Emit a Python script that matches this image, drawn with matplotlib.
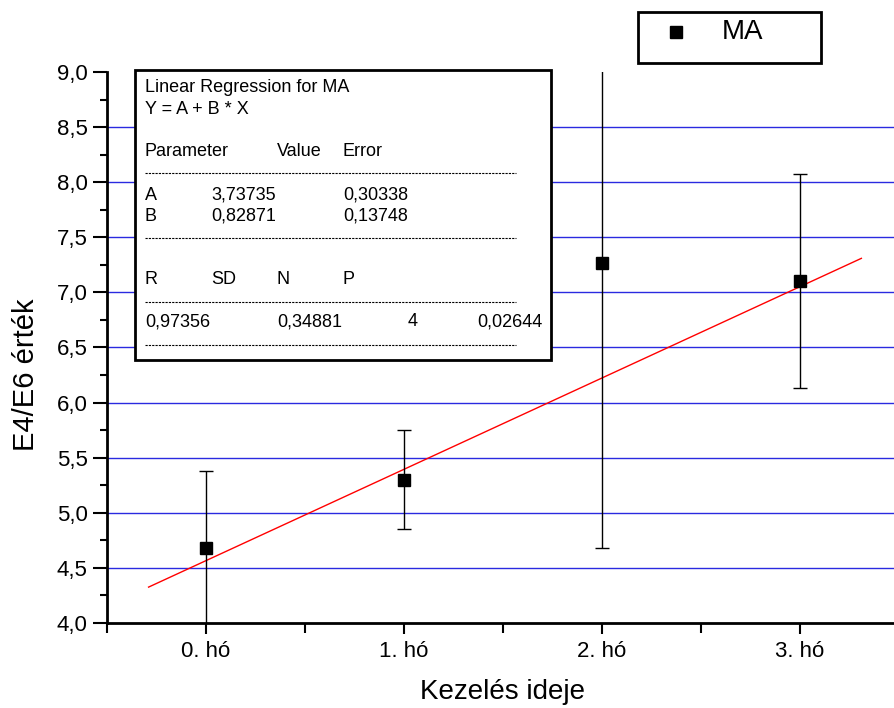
import matplotlib
matplotlib.use("Agg")
import matplotlib.pyplot as plt
from matplotlib.ticker import FuncFormatter, MultipleLocator, FixedLocator
import numpy as np

plt.rcParams['font.family'] = ['Liberation Sans', 'DejaVu Sans']

# ---- data ----
months = [0, 1, 2, 3]
month_labels = ["0. hó", "1. hó", "2. hó", "3. hó"]
ma_values = [4.68, 5.30, 7.27, 7.10]
ma_errors = [0.70, 0.45, 2.59, 0.97]
series_name = "MA"
fit_A = 3.73735
fit_B = 0.82871
fit_x_range = [-0.29, 3.31]

stats_title = ["Linear Regression for MA", "Y = A + B * X"]
param_header = ["Parameter", "Value", "Error"]
param_rows = [["A", "3,73735", "0,30338"], ["B", "0,82871", "0,13748"]]
stat_header = ["R", "SD", "N", "P"]
stat_values = ["0,97356", "0,34881", "4", "0,02644"]

W, H = 895, 708
fig = plt.figure(figsize=(W / 100, H / 100), dpi=100)
ax = fig.add_axes([107 / W, 1 - 623 / H, (895 - 107) / W, (623 - 72) / H])

ax.set_xlim(-0.5, -0.5 + (895 - 107) / 198)
ax.set_ylim(4.0, 9.0)

# gridlines
for gy in np.arange(4.5, 8.51, 0.5):
    ax.axhline(gy, color='#2a2ae0', lw=1.0, zorder=1)

# regression line
fx = np.array(fit_x_range)
ax.plot(fx, fit_A + fit_B * (fx + 1), color='red', lw=1.0, zorder=2)

# data with error bars
ax.errorbar(months, ma_values, yerr=ma_errors, fmt='s', color='black',
            ecolor='black', elinewidth=1.0, capsize=5, capthick=1.0,
            markersize=8, zorder=3, clip_on=True)

# axes styling
for s in ['top', 'right']:
    ax.spines[s].set_visible(False)
for s in ['left', 'bottom']:
    ax.spines[s].set_linewidth(2.0)

ax.xaxis.set_major_locator(FixedLocator(months))
ax.set_xticklabels(month_labels)
ax.xaxis.set_minor_locator(FixedLocator([-0.5, 0.5, 1.5, 2.5]))
ax.yaxis.set_major_locator(MultipleLocator(0.5))
ax.yaxis.set_minor_locator(MultipleLocator(0.25))
ax.yaxis.set_major_formatter(FuncFormatter(lambda v, p: f"{v:.1f}".replace('.', ',')))
ax.tick_params(axis='both', which='major', length=10, width=1.5, labelsize=16, direction='out')
ax.tick_params(axis='both', which='minor', length=5, width=1.5, direction='out')
ax.tick_params(axis='x', which='major', length=8, pad=5)
ax.tick_params(axis='x', which='minor', length=7)
ax.tick_params(axis='y', which='major', pad=4)

fig.text(26 / W, 1 - 375 / H, "E4/E6 érték", rotation=90, fontsize=21,
         ha='center', va='center')
fig.text(503 / W, 1 - 692 / H, "Kezelés ideje", fontsize=20, ha='center', va='center')

# stats box
box = plt.Rectangle((135 / W, 1 - 360 / H), (551 - 135) / W, (360 - 70) / H,
                    transform=fig.transFigure, facecolor='white', edgecolor='black',
                    lw=2.0, zorder=5)
fig.patches.append(box)

fs = 13
def t(x, y, s, ha='left'):
    fig.text(x / W, 1 - y / H, s, fontsize=fs, ha=ha, va='center', zorder=6)

t(145, 88, stats_title[0])
t(145, 109, stats_title[1])
for x, s in zip([145, 277, 343], param_header):
    t(x, 152, s)
for row, y in zip(param_rows, [195, 216]):
    for x, s in zip([145, 211, 343], row):
        t(x, y, s)
for x, s in zip([145, 211, 277, 343], stat_header):
    t(x, 280, s)
t(145, 322, stat_values[0])
t(277, 322, stat_values[1])
t(418, 322, stat_values[2], ha='right')
t(543, 322, stat_values[3], ha='right')

for y in [173, 238, 302, 345]:
    fig.add_artist(plt.Line2D([145 / W, 516 / W], [1 - y / H, 1 - y / H],
                              transform=fig.transFigure, color='black', lw=0.8,
                              linestyle=(0, (2, 1)), zorder=6))

# legend box
lbox = plt.Rectangle((638 / W, 1 - 63 / H), (821 - 638) / W, (63 - 12) / H,
                     transform=fig.transFigure, facecolor='white', edgecolor='black',
                     lw=2.0, zorder=5)
fig.patches.append(lbox)
fig.add_artist(plt.Line2D([676 / W], [1 - 32 / H], transform=fig.transFigure,
                          marker='s', color='black', markersize=9, linestyle='none', zorder=6))
fig.text(743 / W, 1 - 32 / H, series_name, fontsize=20, ha='center', va='center', zorder=6)

fig.savefig("out.png", dpi=100)
